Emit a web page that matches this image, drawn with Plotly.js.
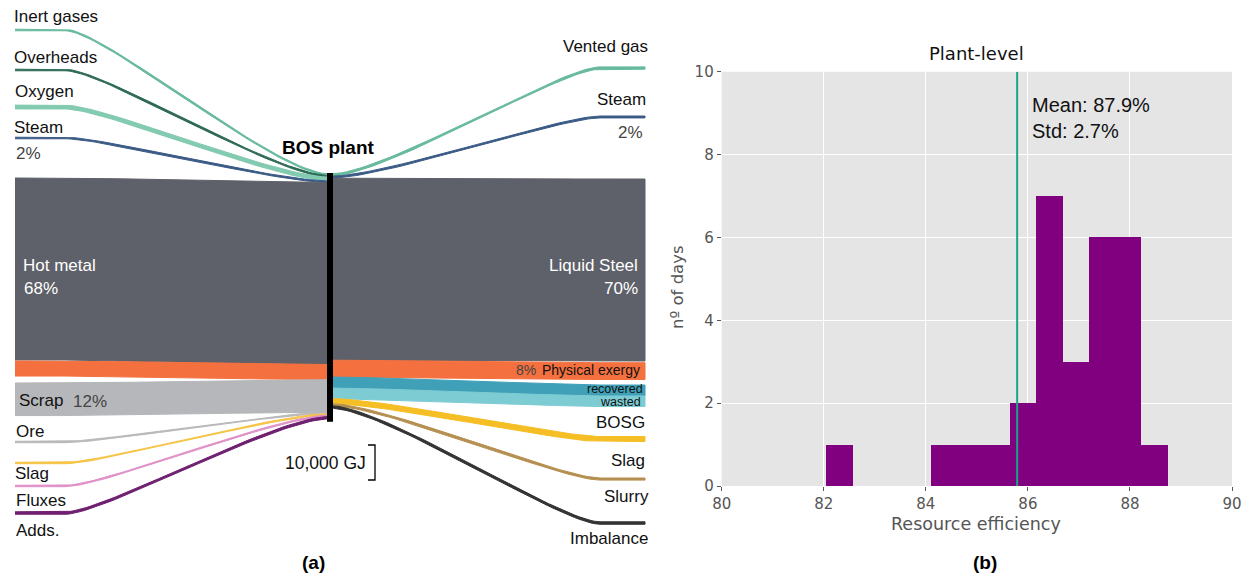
<!DOCTYPE html>
<html><head><meta charset="utf-8">
<script src="https://cdn.plot.ly/plotly-3.0.1.min.js"></script>
<style>html,body{margin:0;padding:0;background:#fff}#chart{width:1250px;height:577px}</style>
</head><body><div id="chart"></div>
<script>
// ===== Data: panel (a) BOS plant flows (GJ) =====
const inputNames  = ["Inert gases","Overheads","Oxygen","Steam","Hot metal","Physical exergy","Scrap","Ore","Slag","Fluxes","Adds."];
const inputValues = [450, 450, 1100, 450, 52000, 4300, 9300, 400, 400, 400, 700];
const outputNames  = ["Vented gas","Steam","Liquid Steel","Physical exergy","recovered","wasted","BOSG","Slag","Imbalance"];
const outputValues = [650, 550, 52000, 4800, 3150, 3000, 1450, 600, 700];
const scaleBarGJ = 10000;

// ===== Data: panel (b) histogram =====
const binStart = 82.05;
const binWidth = 0.5146;
const dayCounts = [1, 0, 0, 0, 1, 1, 1, 2, 7, 3, 6, 6, 1];
const meanLineX = 85.79;
const xTickVals = [80, 82, 84, 86, 88, 90];
const yTickVals = [0, 2, 4, 6, 8, 10];
const statsText = ["Mean: 87.9%", "Std: 2.7%"];

// ===== Styling / positions =====
const inputColors  = ["#67BA9C","#2D6A56","#82CAB0","#3B5B86","#5E6169","#F4703F","#B5B7BA","#B9B9BB","#F6C445","#E090C8","#6E1F6F"];
const inputEndTopPx = [29.2, 69.2, 105.1, 137.2, 178, 361, 383, 441.3, 462.3, 485.3, 511.8];
const outputColors = ["#67BA9C","#3B5B86","#5E6169","#F4703F","#3FA0B7","#7DCBD3","#F5BE25","#B58F50","#333333"];
const outputEndTopPx = [66.9, 116, 179, 362.7, 385, 396, 436.5, 478, 521.8];

const W = 1250, H = 577;
const PX_PER_GJ = 35 / 10000;   // drawing scale of panel (a)
const G = 1 / PX_PER_GJ;         // GJ per pixel
const XL = 15, XC = 330, XR = 645, STACK_TOP_PX = 174;
const N = 48;

function bez(a,b,c,d,t){const u=1-t;return u*u*u*a+3*u*u*t*b+3*u*t*t*c+t*t*t*d;}
function curve(x0,y0,x1,y1,flat0,flat1,arm0,arm1){
  const xs=[x0], ys=[y0];
  const sx=x0+flat0, ex=x1-flat1;
  for(let i=0;i<=N;i++){const t=i/N; xs.push(bez(sx,sx+arm0,ex-arm1,ex,t)); ys.push(bez(y0,y0,y1,y1,t));}
  xs.push(x1); ys.push(y1);
  return {xs,ys};
}
function band(c, v, color, name){
  const x=c.xs.concat(c.xs.slice().reverse());
  const y=c.ys.concat(c.ys.map(q=>q+v).reverse());
  return {type:'scatter',mode:'lines',x,y,xaxis:'x2',yaxis:'y2',fill:'toself',
          fillcolor:color,line:{color,width:1},hoverinfo:'skip',name};
}

const traces = [];
// inputs
let cumL = STACK_TOP_PX*G;
inputValues.forEach((v,i)=>{
  const c = curve(XL, inputEndTopPx[i]*G, XC, cumL, 50, 0, 40, 55);
  traces.push(band(c, v, inputColors[i], inputNames[i]));
  cumL += v;
});
// outputs
let cumR = STACK_TOP_PX*G;
outputValues.forEach((v,i)=>{
  const c = curve(XC, cumR, XR, outputEndTopPx[i]*G, 0, 45, 55, 40);
  traces.push(band(c, v, outputColors[i], outputNames[i]));
  cumR += v;
});
// plant node bar
traces.push({type:'scatter',mode:'lines',x:[XC,XC],y:[STACK_TOP_PX*G-1*G, Math.max(cumL,cumR)+3*G],
  xaxis:'x2',yaxis:'y2',line:{color:'#000',width:6},hoverinfo:'skip'});
// scale bar
const sb0 = 445*G;
traces.push({type:'scatter',mode:'lines',x:[368,375,375,368],y:[sb0,sb0,sb0+scaleBarGJ,sb0+scaleBarGJ],
  xaxis:'x2',yaxis:'y2',line:{color:'#000',width:1.3},hoverinfo:'skip'});

// histogram
const binCenters = dayCounts.map((_,i)=>binStart+(i+0.5)*binWidth);
traces.push({type:'bar',x:binCenters,y:dayCounts,width:binWidth,marker:{color:'#800080',line:{width:0}},
  xaxis:'x',yaxis:'y',hoverinfo:'skip'});
traces.push({type:'scatter',mode:'lines',x:[meanLineX,meanLineX],y:[0,10],line:{color:'#19A486',width:2},
  xaxis:'x',yaxis:'y',hoverinfo:'skip'});

// annotations
const SANS = 'Liberation Sans, Arial, sans-serif';
const DV = 'DejaVu Sans, sans-serif';
function A(text,x,y,o={}){
  return Object.assign({text,x:x/W,y:1-y/H,xref:'paper',yref:'paper',showarrow:false,
    xanchor:o.xa||'left',yanchor:'middle',align:o.xa==='right'?'right':(o.xa==='center'?'center':'left'),
    font:{family:o.fam||SANS,size:o.s||17,color:o.c||'#111'}}, o.extra||{});
}
const anns = [
  A("Inert gases",12,17), A("Overheads",12,57), A("Oxygen",13,91), A("Steam",12,127),
  A("2%",14,153,{c:'#444'}),
  A("<b>BOS plant</b>",328,147,{xa:'center',s:19,c:'#000'}),
  A("Hot metal",21,265,{c:'#fff'}), A("68%",22,288,{c:'#fff'}),
  A("Scrap",17,400), A("12%",71,401,{c:'#444'}),
  A("Ore",14,431), A("Slag",13,473), A("Fluxes",14,500), A("Adds.",14,530),
  A("10,000 GJ",368,463,{xa:'right',s:17.5}),
  A("Vented gas",650,47,{xa:'right'}), A("Steam",648,100,{xa:'right'}),
  A("2%",645,132,{xa:'right',c:'#444'}),
  A("Liquid Steel",640,265,{xa:'right',c:'#fff'}), A("70%",640,288,{xa:'right',c:'#fff'}),
  A("8%",538,370,{xa:'right',s:14,c:'#444'}), A("Physical exergy",642,370,{xa:'right',s:14}),
  A("recovered",645,388.5,{xa:'right',s:12.5}), A("wasted",643,401.5,{xa:'right',s:12.5}),
  A("BOSG",647,422,{xa:'right'}), A("Slag",647,460,{xa:'right'}),
  A("Slurry",651,497,{xa:'right'}), A("Imbalance",650,538,{xa:'right'}),
  A("<b>(a)</b>",313,562,{xa:'center',s:19,c:'#000'}),
  A("<b>(b)</b>",985,562,{xa:'center',s:19,c:'#000'}),
  A("Plant-level",976,54,{xa:'center',s:18,fam:DV,c:'#111'}),
  A(statsText.join("<br>"),1030,118,{s:20,c:'#111'}),
  A("Resource efficiency",976,524,{xa:'center',s:17.5,fam:DV,c:'#555'}),
  Object.assign(A("nº of days",677,287,{xa:'center',s:16.5,fam:DV,c:'#555'}),{textangle:-90}),
];

const layout = {
  width:W,height:H,margin:{l:0,r:0,t:0,b:0},paper_bgcolor:'#fff',plot_bgcolor:'rgba(0,0,0,0)',
  showlegend:false,
  xaxis:{domain:[721.7/W,1232/W],range:[80,90],tickvals:xTickVals,ticks:'outside',ticklen:4,tickcolor:'#555',
    showgrid:true,gridcolor:'#fff',gridwidth:1,zeroline:false,showline:false,
    tickfont:{family:DV,size:15,color:'#555'},fixedrange:true},
  yaxis:{domain:[1-486/H,1-71.7/H],range:[0,10],tickvals:yTickVals,ticks:'outside',ticklen:4,tickcolor:'#555',
    showgrid:true,gridcolor:'#fff',gridwidth:1,zeroline:false,showline:false,
    tickfont:{family:DV,size:15,color:'#555'},fixedrange:true},
  xaxis2:{domain:[0,660/W],range:[0,660],visible:false,fixedrange:true},
  yaxis2:{domain:[0,1],range:[H*G,0],visible:false,fixedrange:true},
  shapes:[{type:'rect',xref:'x domain',yref:'y domain',x0:0,x1:1,y0:0,y1:1,fillcolor:'#E5E5E5',line:{width:0},layer:'below'}],
  annotations:anns,
  bargap:0
};
Plotly.newPlot('chart',traces,layout,{displayModeBar:false,staticPlot:true});
</script></body></html>
